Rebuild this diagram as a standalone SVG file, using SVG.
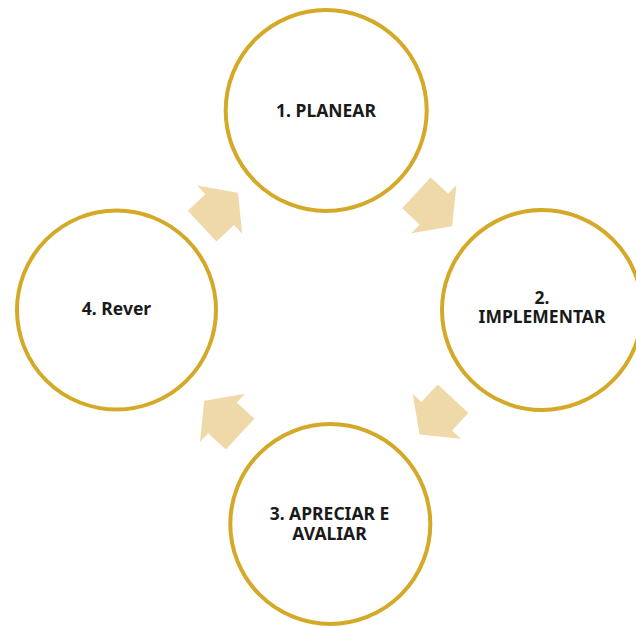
<svg xmlns="http://www.w3.org/2000/svg" xmlns:xlink="http://www.w3.org/1999/xlink" width="636" height="626" viewBox="0 0 636 626">
  <style>
    .node circle { fill: #ffffff; stroke: #D4A928; stroke-width: 4; }
    .node text { font-family: "Noto Sans", "Open Sans", "DejaVu Sans", sans-serif; font-weight: bold; font-size: 17.5px; fill: #1a1a1a; text-anchor: middle; }
    .arrow { fill: #F0D9A8; stroke: none; }
  </style>
  <defs>
    <path id="blockArrow" d="M -24 -21 L 0 -21 L 0 -33 L 25 0 L 0 33 L 0 21 L -24 21 Z"/>
  </defs>
  <rect x="0" y="0" width="636" height="626" fill="#ffffff"/>
  <g id="connectors">
    <use xlink:href="#blockArrow" href="#blockArrow" class="arrow" transform="translate(219.7 209.7) rotate(-43)"/>
    <use xlink:href="#blockArrow" href="#blockArrow" class="arrow" transform="translate(433.9 209.2) rotate(43)"/>
    <use xlink:href="#blockArrow" href="#blockArrow" class="arrow" transform="translate(436.7 416.3) rotate(133)"/>
    <use xlink:href="#blockArrow" href="#blockArrow" class="arrow" transform="translate(222.5 417.8) rotate(-137)"/>
  </g>
  <g id="node-planear" class="node">
    <circle cx="326.2" cy="110.5" r="100.5"/>
    <text x="326" y="116.5">1. PLANEAR</text>
  </g>
  <g id="node-implementar" class="node">
    <circle cx="542" cy="310" r="100"/>
    <text><tspan x="542" y="304">2.</tspan><tspan x="542" y="322.5">IMPLEMENTAR</tspan></text>
  </g>
  <g id="node-apreciar" class="node">
    <circle cx="330.3" cy="524" r="100"/>
    <text><tspan x="329.5" y="520">3. APRECIAR E</tspan><tspan x="329.5" y="540">AVALIAR</tspan></text>
  </g>
  <g id="node-rever" class="node">
    <circle cx="116.5" cy="310" r="99.5"/>
    <text x="116.5" y="315">4. Rever</text>
  </g>
</svg>
